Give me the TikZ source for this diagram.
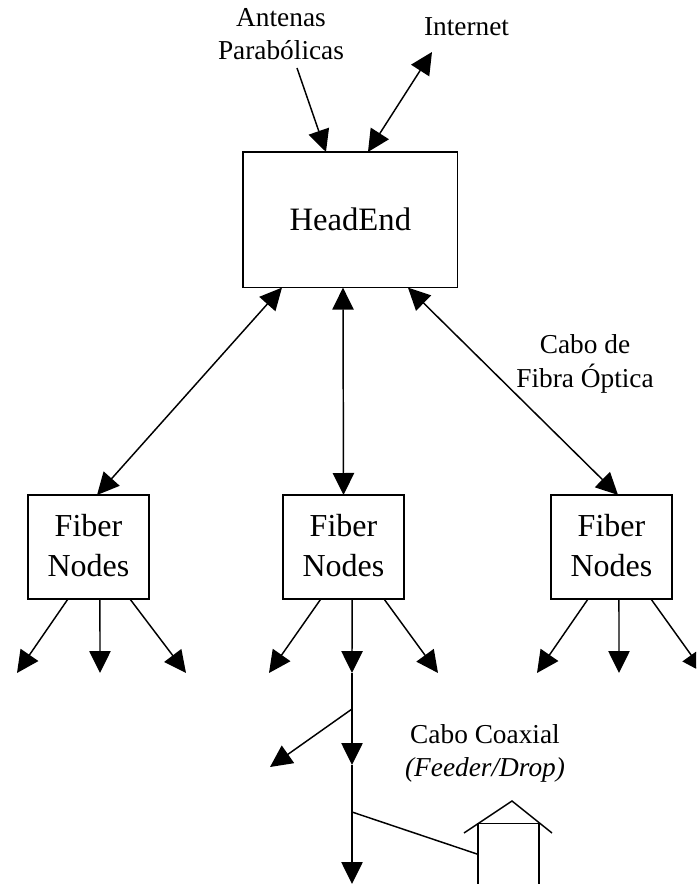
\documentclass[tikz,border=0pt]{standalone}
\usepackage{fontspec}
\setmainfont{Liberation Serif}
\usetikzlibrary{arrows.meta}

\tikzset{
	big/.style={draw,line width=1.1pt,inner sep=0,outer sep=0,align=center,font=\fontsize{24}{30}\selectfont},
	small/.style={inner sep=0,outer sep=0,align=center,font=\fontsize{20.5}{24.75}\selectfont},
	wire/.style={line width=1.1pt},
	tip/.style={wire,-{Triangle[length=16.5pt,width=16pt]}},
	both/.style={wire,{Triangle[length=16.5pt,width=16pt]}-{Triangle[length=16.5pt,width=16pt]}},
}

\begin{document}
\begin{tikzpicture}[x=0.75pt,y=-0.75pt]
	\clip (0,0) rectangle (696,884);
	\node[big,minimum width=161pt,minimum height=101.75pt,font=\fontsize{24.5}{30}\selectfont] (head) at (350.3,219.8) {HeadEnd\rule[-1.5pt]{0pt}{1.5pt}};
	\node[big,minimum width=91pt,minimum height=78pt] (fn1) at (88.5,547) {Fiber\\Nodes\rule[-3pt]{0pt}{3pt}};
	\node[big,minimum width=91pt,minimum height=78pt] (fn2) at (343.5,547) {Fiber\\Nodes\rule[-3pt]{0pt}{3pt}};
	\node[big,minimum width=91pt,minimum height=78pt] (fn3) at (611.5,547) {Fiber\\Nodes\rule[-3pt]{0pt}{3pt}};
	\node[big,minimum width=45.75pt,minimum height=61pt] (house) at (508.5,864) {};
	\node[small] (ant) at (281,34) {Antenas\\Parabólicas};
	\node[small] (net) at (466.5,27) {Internet};
	\node[small] (fibra) at (585,364) {Cabo de\\[1pt]Fibra Óptica};
	\node[small] (coax) at (485,753.5) {Cabo Coaxial\\\textit{(Feeder/Drop)}};
	\coordinate (a1) at (297,68);
	\coordinate (n1) at (432,52);
	\coordinate (l1) at (17,673);
	\coordinate (l2) at (100,673);
	\coordinate (l3) at (186,673);
	\coordinate (m1) at (269,673);
	\coordinate (m2) at (352,673);
	\coordinate (m3) at (438,673);
	\coordinate (r1) at (537,673);
	\coordinate (r2) at (619,673);
	\coordinate (r3) at (704,673);
	\coordinate (t1) at (352,709);
	\coordinate (t2) at (352,765);
	\coordinate (t3) at (352,812);
	\coordinate (t4) at (352,884);
	\coordinate (b1) at (270,767);
	\draw[tip] (a1) -- ([xshift=62.25pt]head.north west);
	\draw[both] ([xshift=93.75pt]head.north west) -- (n1);
	\draw[both] ([xshift=29.25pt]head.south west) -- ([xshift=6.4pt]fn1.north);
	\draw[both] ([xshift=75pt]head.south west) -- (fn2.north);
	\draw[both] ([xshift=123.75pt]head.south west) -- ([xshift=4.9pt]fn3.north);
	\draw[tip] ([xshift=-15.4pt]fn1.south) -- (l1);
	\draw[tip] ([xshift=8.6pt]fn1.south) -- (l2);
	\draw[tip] ([xshift=31.1pt]fn1.south) -- (l3);
	\draw[tip] ([xshift=-17pt]fn2.south) -- (m1);
	\draw[tip] ([xshift=6.4pt]fn2.south) -- (m2);
	\draw[tip] ([xshift=30.4pt]fn2.south) -- (m3);
	\draw[tip] ([xshift=-17.6pt]fn3.south) -- (r1);
	\draw[tip] ([xshift=5.6pt]fn3.south) -- (r2);
	\draw[tip] ([xshift=29.6pt]fn3.south) -- (r3);
	\draw[tip] (m2) -- (t2);
	\draw[tip] (t2) -- (t4);
	\draw[tip] (t1) -- (b1);
	\draw[wire] (t3) -- ([yshift=-23.25pt]house.north west);
	\coordinate (roof1) at (464,833);
	\coordinate (roof2) at (512,801);
	\coordinate (roof3) at (552,833);
	\draw[wire] (roof1) -- (roof2) -- (roof3);
\end{tikzpicture}
\end{document}
